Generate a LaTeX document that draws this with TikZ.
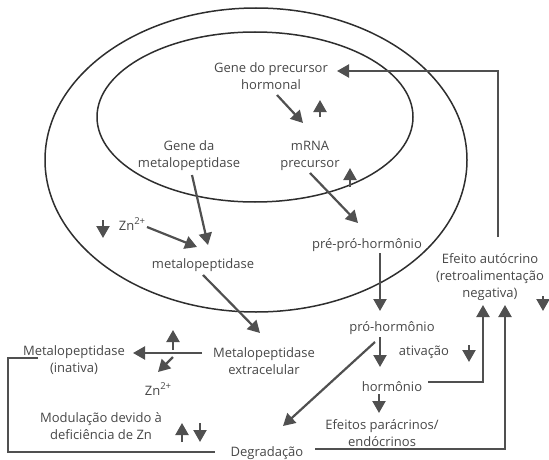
\documentclass[tikz,border=0pt]{standalone}
\usepackage{fontspec}
\setmainfont{Open Sans}
\usetikzlibrary{arrows.meta}
\definecolor{txt}{HTML}{474747}
\definecolor{ln}{HTML}{505050}
\definecolor{ell}{HTML}{2E2E2E}
\newcommand{\zntwo}{Zn\raisebox{0.42em}{\fontsize{9.5}{9.5}\selectfont 2+}}
\begin{document}
\begin{tikzpicture}[x=1pt,y=-1pt,
  font=\fontsize{13}{17}\selectfont,
  lbl/.style={text=txt, align=center, inner sep=0pt},
  arr/.style={-{Triangle[length=12pt,width=13pt]}, line width=2.2pt, draw=ln},
  conn/.style={line width=2pt, draw=ln},
  ellip/.style={line width=1.5pt, draw=ell}]
\path[use as bounding box] (0,0) rectangle (549,460);
% ellipses
\draw[ellip] (256,160) ellipse [x radius=211, y radius=152];
\draw[ellip] (255,117) ellipse [x radius=158, y radius=85];
% text nodes
\node[lbl] (gene) at (271,76) {Gene do precursor\\hormonal};
\node[lbl] (mrna) at (310,156) {mRNA\\precursor};
\node[lbl] (prepro) at (367,245) {pré-pró-hormônio};
\node[lbl] (genemp) at (189,156) {Gene da\\metalopeptidase};
\node[lbl] (zna) at (132,224) {\zntwo};
\node[lbl] (mp) at (203,265) {metalopeptidase};
\node[lbl] (pro) at (392,328) {pró-hormônio};
\node[lbl] (efeito) at (490,277) {Efeito autócrino\\(retroalimentação\\negativa)};
\node[lbl] (ativ) at (424,352) {ativação};
\node[lbl] (horm) at (392,387) {hormônio};
\node[lbl] (efp) at (382,433) {Efeitos parácrinos/\\endócrinos};
\node[lbl] (mpe) at (264,361) {Metalopeptidase\\extracelular};
\node[lbl] (mpi) at (74,360) {Metalopeptidase\\(inativa)};
\node[lbl] (znb) at (158,389) {\zntwo};
\node[lbl] (mod) at (101,426) {Modulação devido à\\deficiência de Zn};
\node[lbl] (degr) at (267,453) {Degradação};
% coordinates
\coordinate (fbS) at (498,237);
\coordinate (fbT) at (337,71);
\coordinate (h1) at (277,95);   \coordinate (h2) at (303,123);
\coordinate (uA1) at (320,117); \coordinate (uA2) at (320,100);
\coordinate (uB1) at (350,187); \coordinate (uB2) at (350,168);
\coordinate (p1) at (310,173);  \coordinate (p2) at (358,223);
\coordinate (pp1) at (380,253); \coordinate (pp2) at (380,311);
\coordinate (pr1) at (380,337); \coordinate (pr2) at (380,367);
\coordinate (hm1) at (379,394); \coordinate (hm2) at (379,413);
\coordinate (dA1) at (469,345); \coordinate (dA2) at (469,362);
\coordinate (hR) at (428,382);  \coordinate (eT1) at (483,305);
\coordinate (dgR) at (315,449); \coordinate (eT2) at (505,305);
\coordinate (dR1) at (543,296); \coordinate (dR2) at (543,311);
\coordinate (dg1) at (375,342); \coordinate (dg2) at (283,426);
\coordinate (g1) at (192,175);  \coordinate (g2) at (208,245);
\coordinate (z1) at (147,227);  \coordinate (z2) at (197,247);
\coordinate (dZ1) at (103,220); \coordinate (dZ2) at (103,238);
\coordinate (m1) at (203,275);  \coordinate (m2) at (260,333);
\coordinate (e1) at (202,353);  \coordinate (e2) at (133,353);
\coordinate (uC1) at (173,350); \coordinate (uC2) at (173,330);
\coordinate (s1) at (173,357);  \coordinate (s2) at (158,372);
\coordinate (uM1) at (182,442); \coordinate (uM2) at (182,423);
\coordinate (dM1) at (200,423); \coordinate (dM2) at (200,442);
\coordinate (iL) at (38,358);   \coordinate (iB) at (8,452);
\coordinate (dgL) at (215,452);
% connectors
\draw[arr] (fbS) |- (fbT);
\draw[arr] (h1) -- (h2);
\draw[arr] (uA1) -- (uA2);
\draw[arr] (uB1) -- (uB2);
\draw[arr] (p1) -- (p2);
\draw[arr] (pp1) -- (pp2);
\draw[arr] (pr1) -- (pr2);
\draw[arr] (hm1) -- (hm2);
\draw[arr] (dA1) -- (dA2);
\draw[arr] (hR) -| (eT1);
\draw[arr] (dgR) -| (eT2);
\draw[arr] (dR1) -- (dR2);
\draw[arr] (dg1) -- (dg2);
\draw[arr] (g1) -- (g2);
\draw[arr] (z1) -- (z2);
\draw[arr] (dZ1) -- (dZ2);
\draw[arr] (m1) -- (m2);
\draw[arr] (e1) -- (e2);
\draw[arr] (uC1) -- (uC2);
\draw[arr] (s1) -- (s2);
\draw[arr] (uM1) -- (uM2);
\draw[arr] (dM1) -- (dM2);
\draw[conn] (iL) -| (iB) -- (dgL);
\end{tikzpicture}
\end{document}
